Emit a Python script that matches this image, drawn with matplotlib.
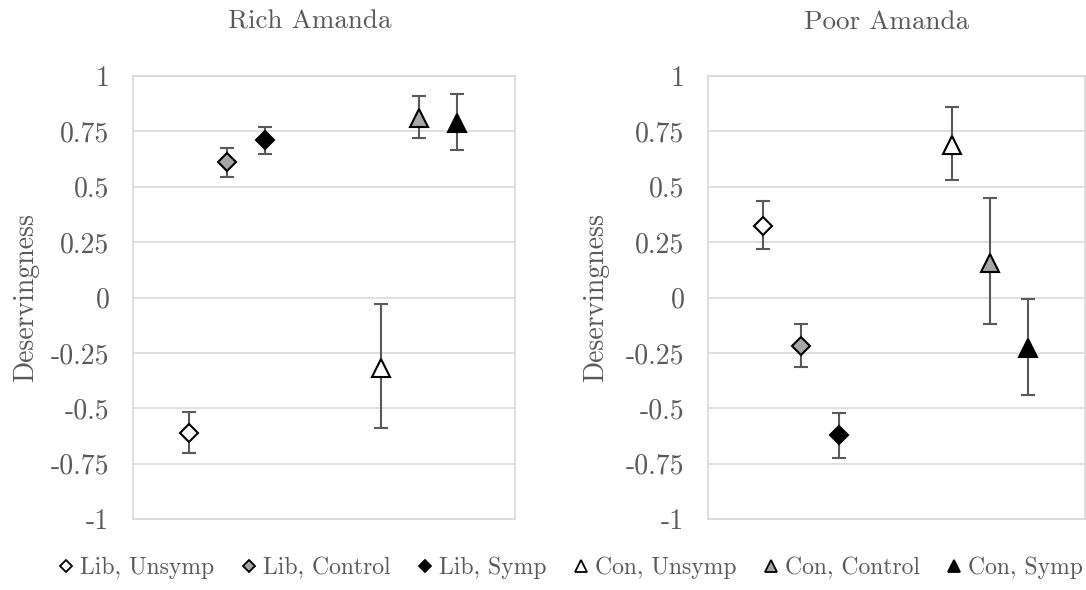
import matplotlib
matplotlib.use("Agg")
import matplotlib.pyplot as plt
from matplotlib.lines import Line2D

plt.rcParams["font.family"] = ["cmr10", "DejaVu Serif"]
plt.rcParams["axes.unicode_minus"] = False

groups = ["Lib, Unsymp", "Lib, Control", "Lib, Symp", "Con, Unsymp", "Con, Control", "Con, Symp"]
group_pos = [1, 2, 3, 6, 7, 8]
markers = ["D", "D", "D", "^", "^", "^"]
fills = ["white", "#a6a6a6", "black", "white", "#a6a6a6", "black"]

rich_mean = [-0.61, 0.61, 0.71, -0.32, 0.81, 0.79]
rich_lo = [-0.70, 0.545, 0.65, -0.59, 0.72, 0.665]
rich_hi = [-0.515, 0.675, 0.77, -0.03, 0.91, 0.92]

poor_mean = [0.325, -0.22, -0.62, 0.69, 0.155, -0.23]
poor_lo = [0.22, -0.315, -0.725, 0.53, -0.12, -0.44]
poor_hi = [0.435, -0.12, -0.52, 0.86, 0.45, -0.005]

yticks = [-1, -0.75, -0.5, -0.25, 0, 0.25, 0.5, 0.75, 1]
ytick_labels = ["-1", "-0.75", "-0.5", "-0.25", "0", "0.25", "0.5", "0.75", "1"]

text_col = "#595959"
grid_col = "#d9d9d9"

fig = plt.figure(figsize=(10.86, 5.9), dpi=100)
ax_rich = fig.add_axes([0.1225, 0.1203, 0.3517, 0.7509])
ax_poor = fig.add_axes([0.6519, 0.1203, 0.3471, 0.7509])


def draw_panel(ax, mean, lo, hi, label_x):
    for i in range(len(groups)):
        err = [[mean[i] - lo[i]], [hi[i] - mean[i]]]
        ms = 9.5 if markers[i] == "D" else 13.5
        ax.errorbar([group_pos[i]], [mean[i]], yerr=err, fmt="none",
                    ecolor=text_col, elinewidth=1.5, capsize=4.7, capthick=1.5, zorder=3)
        ax.plot([group_pos[i]], [mean[i]], marker=markers[i], ms=ms,
                mfc=fills[i], mec="black", mew=1.5, ls="none", zorder=4)
    ax.set_xlim(-0.45, 9.5)
    ax.set_ylim(-1, 1)
    ax.set_yticks(yticks)
    ax.set_yticklabels(ytick_labels)
    ax.set_xticks([])
    ax.grid(axis="y", color=grid_col, lw=1.2)
    ax.set_axisbelow(True)
    for s in ax.spines.values():
        s.set_color(grid_col)
        s.set_linewidth(1.2)
    ax.tick_params(axis="y", length=0, pad=17, labelsize=20, labelcolor=text_col)
    ax.set_ylabel("Deservingness", fontsize=20, color=text_col)
    ax.yaxis.set_label_coords(label_x, 0.5)


draw_panel(ax_rich, rich_mean, rich_lo, rich_hi, -0.245)
draw_panel(ax_poor, poor_mean, poor_lo, poor_hi, -0.262)

fig.text(0.2855, 0.963, "Rich Amanda", ha="center", va="center", fontsize=19.5, color=text_col)
fig.text(0.8165, 0.963, "Poor Amanda", ha="center", va="center", fontsize=19.5, color=text_col)

handles = [
    Line2D([], [], marker=markers[i], ms=(6.6 if markers[i] == "D" else 8.5), mfc=fills[i],
           mec="black", mew=1.3, ls="none")
    for i in range(len(groups))
]
leg = fig.legend(handles, groups, loc="lower center", bbox_to_anchor=(0.5253, -0.017), ncol=6,
                 frameon=False, fontsize=17, handlelength=0.7, handletextpad=0.25,
                 columnspacing=1.1, labelcolor=text_col)

fig.savefig("out.png", dpi=100)
plt.close(fig)
